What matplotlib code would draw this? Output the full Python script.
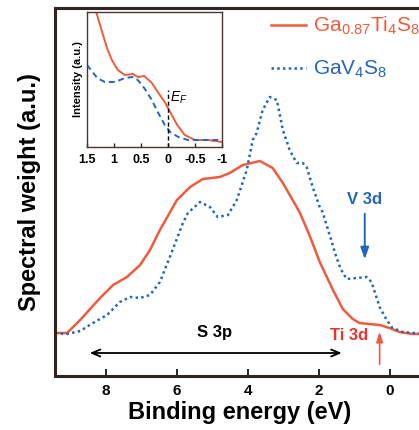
import matplotlib
matplotlib.use("Agg")
import matplotlib.pyplot as plt
import numpy as np

plt.rcParams["font.family"] = ["Liberation Sans", "DejaVu Sans"]
plt.rcParams["mathtext.fontset"] = "custom"
plt.rcParams["mathtext.rm"] = "Liberation Sans"
plt.rcParams["mathtext.it"] = "Liberation Sans:italic"
plt.rcParams["mathtext.bf"] = "Liberation Sans:bold"

# main spectra (binding energy in eV, spectral weight in a.u.)
ti_energy = [9.44, 9.10, 8.73, 8.17, 7.80, 7.41, 7.04, 6.76, 6.48, 6.00, 5.63, 5.27,
             4.79, 4.51, 4.14, 3.66, 3.30, 3.01, 2.54, 2.25, 1.97, 1.61, 1.32, 1.04,
             0.85, 0.56, 0.28, 0.00, -0.28, -0.65, -1.0]
ti_weight = [43, 43, 56, 78, 91, 99, 111, 126, 146, 176, 189, 197,
             199, 203, 211, 215, 208, 193, 164, 140, 114, 87, 67, 57,
             53, 52, 51, 48, 44, 42, 42]

v_energy = [9.44, 9.10, 8.73, 8.37, 7.97, 7.61, 7.32, 7.04, 6.76, 6.48, 6.20, 5.83,
            5.69, 5.35, 5.07, 4.85, 4.56, 4.31, 4.03, 3.86, 3.75, 3.58, 3.38, 3.18,
            3.01, 2.82, 2.62, 2.45, 2.34, 2.17, 1.97, 1.89, 1.69, 1.52, 1.38, 1.21,
            0.93, 0.65, 0.51, 0.28, 0.08, -0.08, -0.37, -0.65, -1.0]
v_weight = [43, 42, 45, 53, 61, 74, 79, 78, 81, 94, 119, 153,
            163, 174, 169, 159, 161, 176, 206, 236, 243, 266, 279, 276,
            246, 226, 213, 213, 209, 189, 169, 164, 141, 121, 107, 97,
            98, 99, 94, 69, 56, 48, 44, 43, 43]

# inset near the Fermi level
ti_in_energy = [1.50, 1.33, 1.22, 1.13, 1.04, 0.93, 0.80, 0.65, 0.56, 0.44, 0.30, 0.19,
                0.06, -0.04, -0.17, -0.31, -0.50, -0.74, -1.0]
ti_in_int = [165, 135, 115, 99, 87, 77, 72, 73, 70, 71, 64, 55,
             45, 35, 22, 12, 7, 7, 5]
v_in_energy = [1.50, 1.31, 1.17, 0.98, 0.80, 0.65, 0.56, 0.44, 0.30, 0.19, 0.06, -0.04,
               -0.19, -0.37, -0.69, -1.0]
v_in_int = [82, 69, 65, 65, 69, 70, 67, 59, 47, 35, 22, 15,
            10, 7, 7, 7]

red = "#F15B3D"
blue = "#2466B8"
frame = "#2e2422"

fig = plt.figure(figsize=(4.19, 4.30), dpi=100)
ax = fig.add_axes([55/419, 54/430, 370/419, 368/430])

ax.plot(ti_energy, ti_weight, color=red, lw=1.8, label=r"Ga$_{0.87}$Ti$_4$S$_8$")
ax.plot(v_energy, v_weight, color=blue, lw=1.8, ls=(0, (1, 1.3)), label=r"GaV$_4$S$_8$")

ax.set_xlim(9.44, -1.0)
ax.set_ylim(0, 368)
ax.set_xticks([8, 6, 4, 2, 0])
ax.set_yticks([])
ax.tick_params(axis="x", direction="in", length=5, width=1.4, color=frame,
               labelsize=11, pad=6)
for lab in ax.get_xticklabels():
    lab.set_fontweight("bold")
for s in ax.spines.values():
    s.set_linewidth(2.2)
    s.set_color(frame)
ax.set_xlabel("Binding energy (eV)", fontsize=17, fontweight="bold", labelpad=2)
ax.set_ylabel("Spectral weight (a.u.)", fontsize=17, fontweight="bold", labelpad=10)

leg = ax.legend(loc="upper left", bbox_to_anchor=(271/419, 1 - 15/430),
                bbox_transform=fig.transFigure, frameon=False, fontsize=15,
                handlelength=1.7, handletextpad=0.3, labelspacing=1.05,
                borderpad=0, borderaxespad=0)
for t, c in zip(leg.get_texts(), [red, blue]):
    t.set_color(c)

# annotations
ax.annotate("", xy=(0.70, 114), xytext=(0.70, 165),
            arrowprops=dict(arrowstyle="-|>,head_length=0.7,head_width=0.25",
                            color=blue, lw=1.4))
ax.text(0.70, 176, "V 3d", color=blue, fontsize=12, fontweight="bold",
        ha="center", va="center")
ax.annotate("", xy=(0.28, 47), xytext=(0.28, 9),
            arrowprops=dict(arrowstyle="-|>,head_length=0.6,head_width=0.2",
                            color=red, lw=1.2))
ax.text(1.13, 41, "Ti 3d", color="#E8352B", fontsize=12, fontweight="bold",
        ha="center", va="center")
ax.annotate("", xy=(8.54, 23), xytext=(1.27, 23),
            arrowprops=dict(arrowstyle="<->,head_length=0.6,head_width=0.25",
                            color="black", lw=1.3))
ax.text(4.93, 44, "S 3p", color="black", fontsize=12, fontweight="bold",
        ha="center", va="center")

# inset
ins = fig.add_axes([87/419, 283/430, 135/419, 135/430])
ins.plot(ti_in_energy, ti_in_int, color=red, lw=1.4)
ins.plot(v_in_energy, v_in_int, color=blue, lw=1.4, ls=(0, (3, 2)))
ins.axvline(0, ymin=0, ymax=57/135, color="black", lw=1.0, ls=(0, (3, 2)))
ins.text(-0.04, 49, r"$E_F$", fontsize=10, color="black", ha="left", va="center")
ins.set_xlim(1.5, -1.0)
ins.set_ylim(0, 135)
ins.set_xticks([1.5, 1, 0.5, 0, -0.5, -1])
ins.set_xticklabels(["1.5", "1", "0.5", "0", "-0.5", "-1"])
ins.set_yticks([])
ins.tick_params(axis="x", direction="in", length=3, width=1, color=frame,
                labelsize=9, pad=5)
for lab in ins.get_xticklabels():
    lab.set_fontweight("bold")
for s in ins.spines.values():
    s.set_linewidth(1.0)
    s.set_color("#4a3530")
ins.set_ylabel("Intensity (a.u.)", fontsize=8, fontweight="bold", labelpad=3)

fig.savefig("out.png", dpi=100)
